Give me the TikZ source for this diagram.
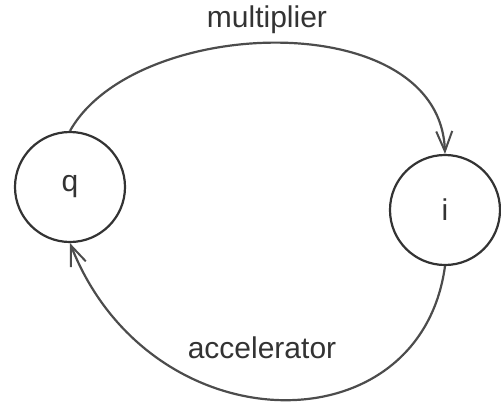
\documentclass[tikz,border=0pt]{standalone}
\usepackage{fontspec}
\setmainfont{Liberation Sans}
\usetikzlibrary{arrows.meta}
\tikzset{
    % styles
    myarr/.style={-{Straight Barb[length=20pt,width=16pt,line width=2pt]}, line width=2.2pt, draw=black!70},
    mystate/.style={draw=black!80, line width=2.2pt, circle, minimum size=110pt, inner sep=0pt},
    mylab/.style={font=\fontsize{30}{36}\selectfont, text=black!80}
}

\begin{document}
\begin{tikzpicture}[x=1pt,y=-1pt]
    \useasboundingbox (0,0) rectangle (501,407);
    % states
    \node (Q) at (70,187) [mystate, mylab] {q};
    \node (I) at (445,210) [mystate, mylab] {i};

    % labels
    \node (M) at (267,20) [mylab] {multiplier};
    \node (C) at (262,348) [mylab] {accelerator};

    % ARROWS
    \draw[myarr] (Q.north) .. controls (135,15) and (440,5) .. (I.north);
    \draw[myarr] (I.south) .. controls (420,450) and (150,446) .. (Q.south);

\end{tikzpicture}
\end{document}
